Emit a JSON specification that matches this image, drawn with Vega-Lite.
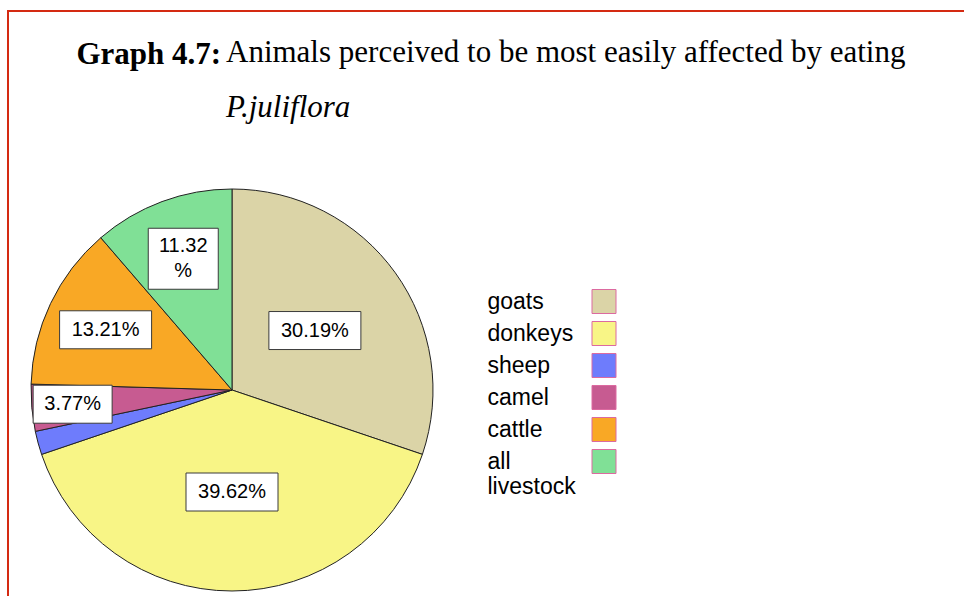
{
  "$schema": "https://vega.github.io/schema/vega-lite/v6.json",
  "width": 958,
  "height": 587,
  "autosize": {"type": "none"},
  "padding": {"left": 8, "top": 11, "right": -2, "bottom": -2},
  "background": "white",
  "config": {"view": {"stroke": "#d42a12", "strokeWidth": 2}},
  "title": {
    "text": "Animals perceived to be most easily affected by eating",
    "subtitle": "P.juliflora",
    "anchor": "start",
    "frame": "group",
    "orient": "top",
    "dx": 218,
    "offset": -113,
    "font": "Liberation Serif",
    "fontSize": 31,
    "fontWeight": "normal",
    "color": "black",
    "subtitleFont": "Liberation Serif",
    "subtitleFontSize": 31,
    "subtitleFontStyle": "italic",
    "subtitleColor": "black",
    "subtitlePadding": 24
  },
  "data": {
    "values": [
      {"animal": "goats", "pct": 30.19},
      {"animal": "donkeys", "pct": 39.62},
      {"animal": "sheep", "pct": 1.89},
      {"animal": "camel", "pct": 3.77},
      {"animal": "cattle", "pct": 13.21},
      {"animal": "all livestock", "pct": 11.32}
    ]
  },
  "transform": [
    {"window": [{"op": "row_number", "as": "idx"}]},
    {"window": [{"op": "sum", "field": "pct", "as": "cum"}], "sort": [{"field": "idx", "order": "ascending"}], "frame": [null, 0]},
    {"joinaggregate": [{"op": "sum", "field": "pct", "as": "total"}]},
    {"calculate": "datum.cum - datum.pct", "as": "start"},
    {"calculate": "2 * PI * (datum.cum - datum.pct / 2) / datum.total", "as": "mid"},
    {"calculate": "datum.pct < 5 ? 160 : datum.pct < 20 ? 140 : 102", "as": "lr"},
    {"calculate": "datum.lr * sin(datum.mid)", "as": "lx"},
    {"calculate": "datum.lr * cos(datum.mid)", "as": "ly"},
    {"calculate": "format(datum.pct, '.2f') + (datum.animal == 'all livestock' ? '\\n%' : '%')", "as": "label"},
    {"calculate": "datum.animal == 'all livestock' ? 35 : (13 * length(datum.label) + 14) / 2", "as": "hw"},
    {"calculate": "datum.animal == 'all livestock' ? 30.5 : 19", "as": "hh"},
    {"calculate": "datum.animal == 'all livestock' ? datum.ly + 12.5 : datum.ly", "as": "ty"},
    {"calculate": "datum.lx - datum.hw", "as": "bx1"},
    {"calculate": "datum.lx + datum.hw", "as": "bx2"},
    {"calculate": "datum.ly - datum.hh", "as": "by1"},
    {"calculate": "datum.ly + datum.hh", "as": "by2"}
  ],
  "layer": [
    {
      "mark": {"type": "arc", "radius": 201, "stroke": "#222222", "strokeWidth": 1},
      "encoding": {
        "theta": {"field": "start", "type": "quantitative", "scale": {"domain": [0, 100]}},
        "theta2": {"field": "cum"},
        "x": {"datum": 0, "type": "quantitative", "stack": null, "scale": {"domain": [-224, 734], "nice": false, "zero": false},
          "axis": {"orient": "top", "title": "Graph 4.7:", "titleX": 68, "titleY": 52, "titleAlign": "left", "titleBaseline": "alphabetic", "titleFont": "Liberation Serif", "titleFontSize": 31, "titleFontWeight": "bold", "titleColor": "black", "domain": false, "ticks": false, "labels": false, "grid": false}},
        "y": {"datum": 0, "type": "quantitative", "stack": null, "scale": {"domain": [-208, 379], "nice": false, "zero": false}, "axis": null},
        "color": {
          "field": "animal",
          "type": "nominal",
          "sort": ["goats", "donkeys", "sheep", "camel", "cattle", "all livestock"],
          "scale": {
            "domain": ["goats", "donkeys", "sheep", "camel", "cattle", "all livestock"],
            "range": ["#dbd4a7", "#f8f586", "#6e7cfc", "#c75b91", "#f9a825", "#80e096"]
          },
          "legend": {
            "orient": "none",
            "legendX": 455,
            "legendY": 278,
            "title": null,
            "padding": 0,
            "symbolType": "square",
            "symbolSize": 576,
            "symbolStrokeColor": "#dc6aa0",
            "symbolStrokeWidth": 1,
            "symbolOpacity": 1,
            "symbolOffset": 128.5,
            "labelOffset": -129,
            "labelFont": "Liberation Sans",
            "labelFontSize": 23,
            "labelColor": "black",
            "labelBaseline": "middle",
            "labelLimit": 0,
            "rowPadding": 3,
            "labelExpr": "datum.label == 'all livestock' ? ['all', 'livestock'] : datum.label",
            "encode": {"symbols": {"update": {"stroke": {"value": "#dc6aa0"}, "strokeWidth": {"value": 1}}}}
          }
        }
      }
    },
    {
      "transform": [{"filter": "datum.pct >= 3"}],
      "mark": {"type": "rect", "fill": "white", "stroke": "#3a3a3a", "strokeWidth": 1},
      "encoding": {
        "x": {"field": "bx1", "type": "quantitative", "scale": {"domain": [-224, 734], "nice": false, "zero": false},
          "axis": {"orient": "top", "title": "Graph 4.7:", "titleX": 68, "titleY": 52, "titleAlign": "left", "titleBaseline": "alphabetic", "titleFont": "Liberation Serif", "titleFontSize": 31, "titleFontWeight": "bold", "titleColor": "black", "domain": false, "ticks": false, "labels": false, "grid": false}},
        "x2": {"field": "bx2"},
        "y": {"field": "by1", "type": "quantitative", "scale": {"domain": [-208, 379], "nice": false, "zero": false}, "axis": null},
        "y2": {"field": "by2"}
      }
    },
    {
      "transform": [{"filter": "datum.pct >= 3"}],
      "mark": {"type": "text", "font": "Liberation Sans", "fontSize": 20, "color": "black", "align": "center", "baseline": "middle", "lineBreak": "\n", "lineHeight": 25},
      "encoding": {
        "x": {"field": "lx", "type": "quantitative", "scale": {"domain": [-224, 734], "nice": false, "zero": false},
          "axis": {"orient": "top", "title": "Graph 4.7:", "titleX": 68, "titleY": 52, "titleAlign": "left", "titleBaseline": "alphabetic", "titleFont": "Liberation Serif", "titleFontSize": 31, "titleFontWeight": "bold", "titleColor": "black", "domain": false, "ticks": false, "labels": false, "grid": false}},
        "y": {"field": "ty", "type": "quantitative", "scale": {"domain": [-208, 379], "nice": false, "zero": false}, "axis": null},
        "text": {"field": "label"}
      }
    }
  ]
}
